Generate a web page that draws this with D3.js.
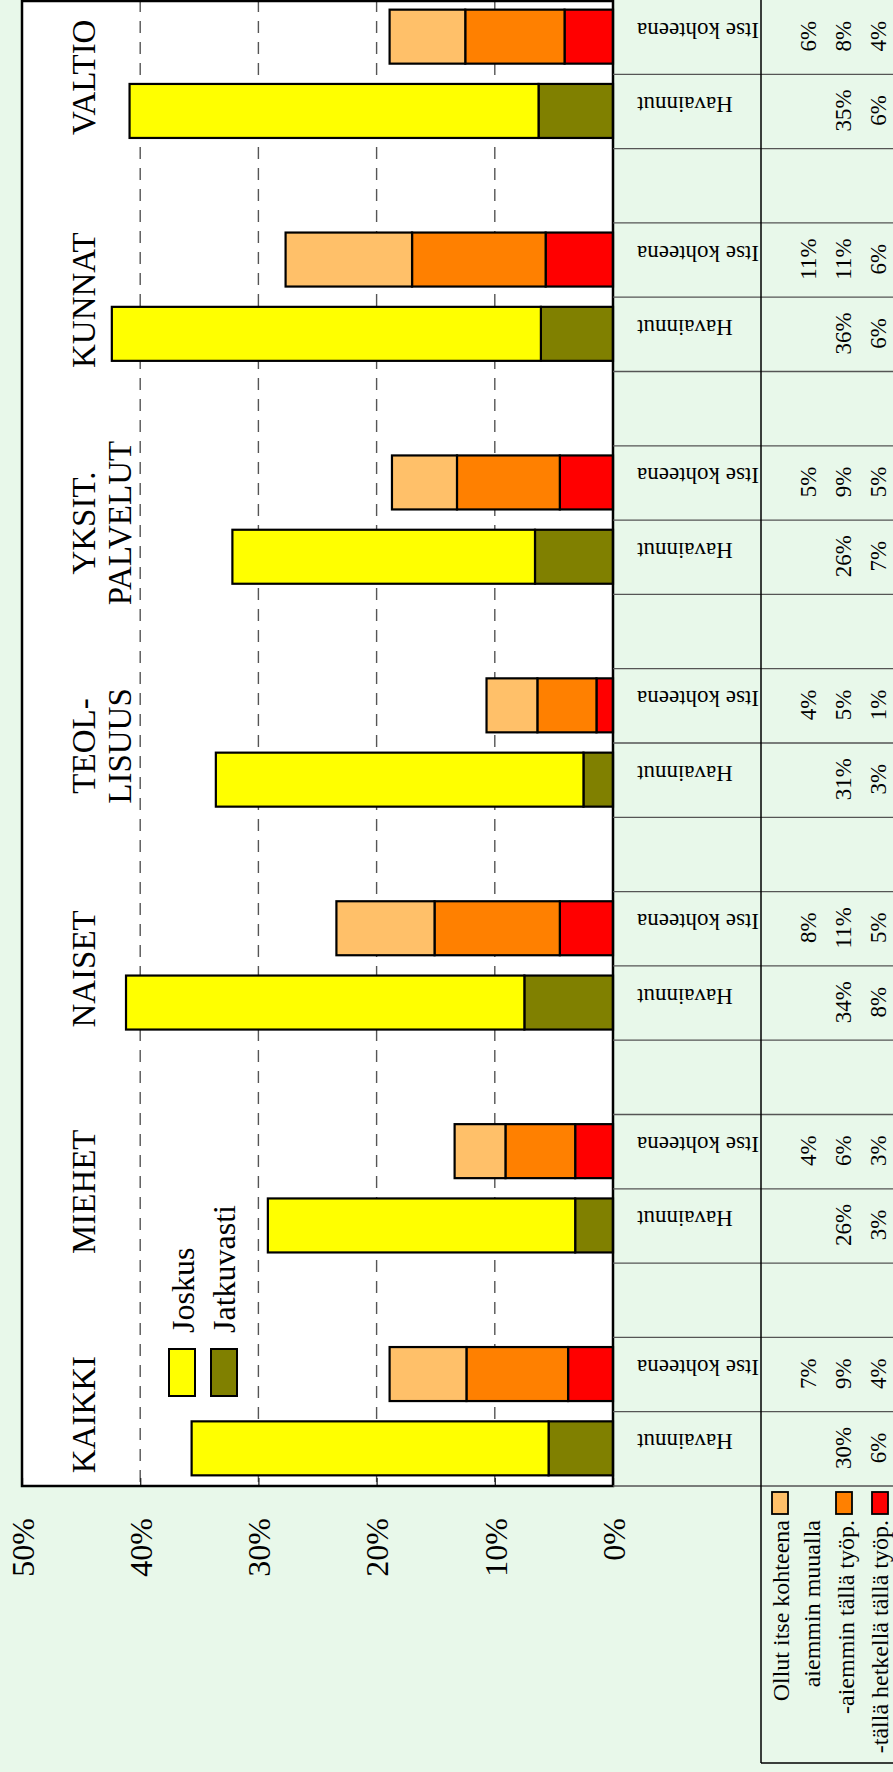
<!DOCTYPE html>
<html><head><meta charset="utf-8">
<script src="https://cdn.jsdelivr.net/npm/d3@7"></script>
<style>
html,body{margin:0;padding:0;background:#e8f8ea;}
svg{display:block;}
svg text{font-family:"Liberation Serif","Times New Roman",serif !important;}
</style></head><body>
<svg id="c" width="893" height="1772"></svg>
<script>
// ---- data ----
const categories = [["KAIKKI"],["MIEHET"],["NAISET"],["TEOL-","LISUUS"],["YKSIT.","PALVELUT"],["KUNNAT"],["VALTIO"]];
// Havainnut (observed) bar
const jatkuvasti = [5.45, 3.2, 7.5, 2.5, 6.6, 6.1, 6.3];
const joskus     = [30.2, 26.0, 33.7, 31.1, 25.6, 36.3, 34.6];
// Itse kohteena (self target) bar
const tallaHetkella = [3.8, 3.2, 4.5, 1.4, 4.5, 5.7, 4.1];
const aiemminTalla  = [8.6, 5.9, 10.6, 5.0, 8.7, 11.3, 8.4];
const aiemminMuualla= [6.5, 4.3, 8.3, 4.3, 5.5, 10.7, 6.4];
// table labels
const lblJoskus  = ["30%","26%","34%","31%","26%","36%","35%"];
const lblJatk    = ["6%","3%","8%","3%","7%","6%","6%"];
const lblMuualla = ["7%","4%","8%","4%","5%","11%","6%"];
const lblAiemmin = ["9%","6%","11%","5%","9%","11%","8%"];
const lblNyt     = ["4%","3%","5%","1%","5%","6%","4%"];
const rowLabels = ["Havainnut","Itse kohteena"];
const tickValues = [0,10,20,30,40,50];
const legendHav = ["Joskus","Jatkuvasti"];
const legendItse = [["Ollut itse kohteena","aiemmin muualla"],["-aiemmin tällä työp."],["-tällä hetkellä tällä työp."]];

// ---- layout ----
const plotL=22, plotR=613, plotT=0, plotB=1486;
const colSplit=761, tableR=893, legendB=1763;
const colors = {joskus:"#ffff00", jatk:"#808000", muualla:"#ffc069", aiemmin:"#ff8000", nyt:"#ff0000"};

const svg = d3.select("#c");
const x = d3.scaleLinear().domain([0,50]).range([plotR, plotL]);
const nRows = categories.length*3 - 1;
const row = d3.scaleLinear().domain([0,nRows]).range([plotB, plotT]);
const barH = 54;

// background
svg.append("rect").attr("width",893).attr("height",1772).attr("fill","#e8f8ea");
svg.append("rect").attr("x",plotL).attr("y",plotT).attr("width",plotR-plotL).attr("height",plotB-plotT).attr("fill","#fff");

// gridlines
svg.append("g").selectAll("line").data([10,20,30,40]).join("line")
  .attr("x1",d=>x(d)).attr("x2",d=>x(d)).attr("y1",plotT).attr("y2",plotB)
  .attr("stroke","#555").attr("stroke-width",1.4).attr("stroke-dasharray","12,9");

// axis
const ax = svg.append("g").attr("transform",`translate(0,${plotB})`)
  .call(d3.axisBottom(x).tickValues(tickValues).tickSize(-8).tickFormat(d=>d+"%"));
ax.attr("font-family",null).attr("font-size",null);
ax.select(".domain").remove();
ax.selectAll(".tick line").attr("stroke","#222").attr("stroke-width",1.3);
ax.selectAll(".tick text").attr("transform","rotate(-90)").attr("x",-32).attr("y",0)
  .attr("dy","0.35em").attr("text-anchor","end").attr("font-size",32).attr("fill","#000");

// bars
const g = svg.append("g");
categories.forEach((c,i)=>{
  const hy = row(3*i+0.5) - 0.5 - barH/2;
  const iy = row(3*i+1.5) - 0.5 - barH/2;
  const hSeg = [[jatkuvasti[i],colors.jatk],[joskus[i],colors.joskus]];
  let acc=0;
  hSeg.forEach(([v,col])=>{
    g.append("rect").attr("x",x(acc+v)).attr("y",hy).attr("width",x(acc)-x(acc+v)).attr("height",barH)
      .attr("fill",col).attr("stroke","#000").attr("stroke-width",2.2);
    acc+=v;
  });
  const iSeg = [[tallaHetkella[i],colors.nyt],[aiemminTalla[i],colors.aiemmin],[aiemminMuualla[i],colors.muualla]];
  acc=0;
  iSeg.forEach(([v,col])=>{
    g.append("rect").attr("x",x(acc+v)).attr("y",iy).attr("width",x(acc)-x(acc+v)).attr("height",barH)
      .attr("fill",col).attr("stroke","#000").attr("stroke-width",2.2);
    acc+=v;
  });
  // category label
  const cy = row(3*i+1) + 3;
  c.forEach((line,li)=>{
    svg.append("text").attr("transform",`translate(${95+li*36},${cy}) rotate(-90)`)
      .attr("text-anchor","middle").attr("font-size",33).text(line);
  });
});

// plot border
svg.append("rect").attr("x",plotL).attr("y",plotT+1).attr("width",plotR-plotL).attr("height",plotB-plotT-1)
  .attr("fill","none").attr("stroke","#000").attr("stroke-width",2.5);

// legend Joskus / Jatkuvasti
[[colors.joskus,169,194],[colors.jatk,211,235]].forEach(([col,rx,bx],k)=>{
  svg.append("rect").attr("x",rx).attr("y",1349).attr("width",26).attr("height",47)
    .attr("fill",col).attr("stroke","#000").attr("stroke-width",2);
  svg.append("text").attr("transform",`translate(${bx},1333) rotate(-90)`)
    .attr("text-anchor","start").attr("font-size",32).text(legendHav[k]);
});

// table lines
const tl = svg.append("g");
d3.range(1,nRows).forEach(k=>{
  tl.append("line").attr("x1",plotR).attr("x2",tableR).attr("y1",row(k)).attr("y2",row(k))
    .attr("stroke","#555").attr("stroke-width",1.3);
});
tl.append("line").attr("x1",plotR).attr("x2",tableR).attr("y1",plotB).attr("y2",plotB)
  .attr("stroke","#555").attr("stroke-width",1.3);
tl.append("line").attr("x1",colSplit).attr("x2",colSplit).attr("y1",0).attr("y2",legendB)
  .attr("stroke","#000").attr("stroke-width",1.5);
tl.append("line").attr("x1",colSplit).attr("x2",tableR).attr("y1",legendB).attr("y2",legendB)
  .attr("stroke","#000").attr("stroke-width",1.5);

// table text
const lineX = [816, 851, 886];
categories.forEach((c,i)=>{
  [3*i, 3*i+1].forEach((k,j)=>{
    svg.append("text").attr("transform",`translate(637,${row(k+0.5)-14.5}) rotate(180)`)
      .attr("text-anchor","end").attr("font-size",23).text(rowLabels[j]);
  });
  const hv = [null, lblJoskus[i], lblJatk[i]];
  const iv = [lblMuualla[i], lblAiemmin[i], lblNyt[i]];
  [[3*i,hv],[3*i+1,iv]].forEach(([k,vals])=>{
    vals.forEach((t,l)=>{
      if(!t) return;
      svg.append("text").attr("transform",`translate(${lineX[l]},${row(k+0.5)-1}) rotate(-90)`)
        .attr("text-anchor","middle").attr("font-size",23).text(t);
    });
  });
});

// legend for Itse kohteena
const legCols = [colors.muualla, colors.aiemmin, colors.nyt];
const legRectX = [772, 836, 872];
const legTextX = [[789,820],[854],[888]];
legCols.forEach((col,k)=>{
  svg.append("rect").attr("x",legRectX[k]).attr("y",1492).attr("width",16).attr("height",22)
    .attr("fill",col).attr("stroke","#000").attr("stroke-width",1.8);
  legendItse[k].forEach((t,l)=>{
    svg.append("text").attr("transform",`translate(${legTextX[k][l]},1520) rotate(-90)`)
      .attr("text-anchor","end").attr("font-size",24).text(t);
  });
});
</script>
</body></html>
